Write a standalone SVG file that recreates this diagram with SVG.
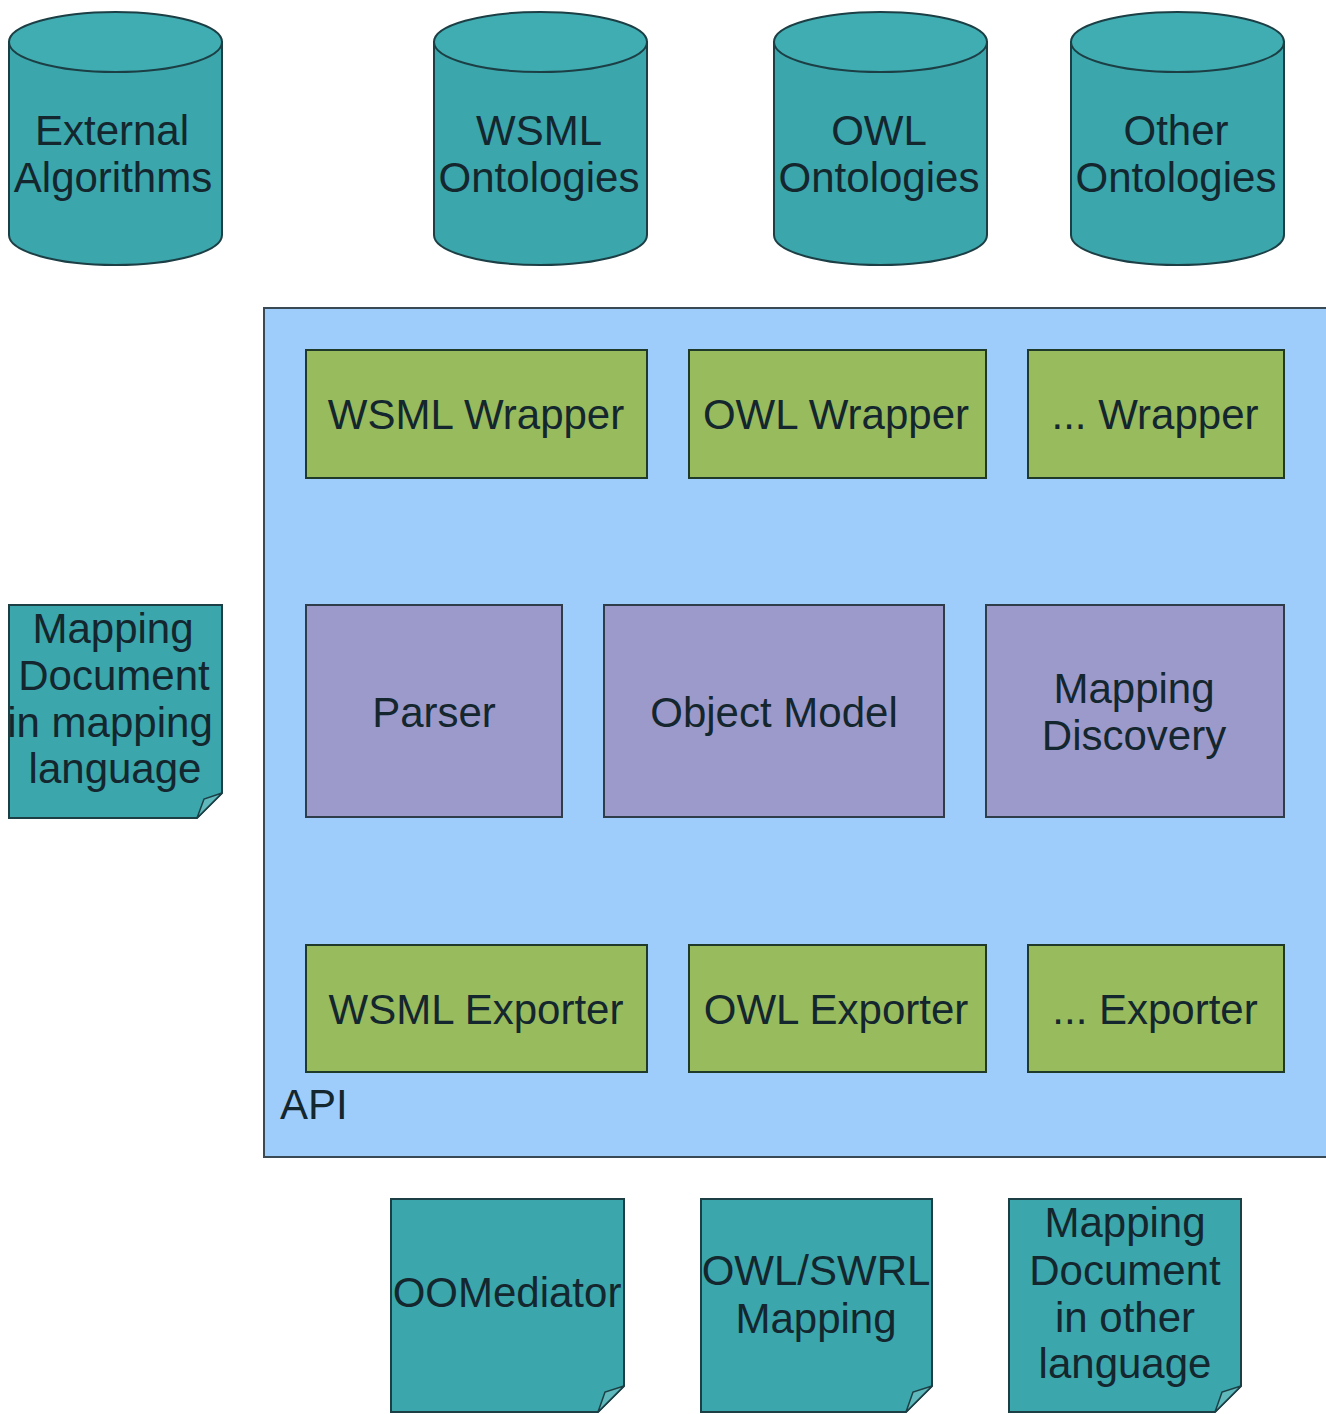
<svg xmlns="http://www.w3.org/2000/svg" width="1326" height="1414" viewBox="0 0 1326 1414">
  <defs>
    <style>
      .txt { font-family: "Liberation Sans", Arial, sans-serif; font-size: 42px; fill: #14262e; text-anchor: middle; }
      .teal { fill: #3ba6ab; stroke: #1c3f45; stroke-width: 2; }
      .top { fill: #40adb2; stroke: #1c3f45; stroke-width: 2; }
      .fold { fill: #5fb9bc; stroke: #1c3f45; stroke-width: 1.5; }
      .api { fill: #9fcdfb; stroke: #3a4a55; stroke-width: 2; }
      .green { fill: #98bb5d; stroke: #1f3a28; stroke-width: 2; }
      .purple { fill: #9c9acb; stroke: #2f3d4a; stroke-width: 2; }
    </style>
  </defs>
  <rect width="1326" height="1414" fill="#ffffff"/>

  <!-- data stores (cylinders) -->
  <g id="external-algorithms">
    <path class="teal" d="M9,42 L9,235 A106.5,30 0 0 0 222,235 L222,42 Z"/>
    <ellipse class="top" cx="115.5" cy="42" rx="106.5" ry="30"/>
    <text class="txt" x="112" y="145">External</text>
    <text class="txt" x="113" y="192">Algorithms</text>
  </g>
  <g id="wsml-ontologies">
    <path class="teal" d="M434,42 L434,235 A106.5,30 0 0 0 647,235 L647,42 Z"/>
    <ellipse class="top" cx="540.5" cy="42" rx="106.5" ry="30"/>
    <text class="txt" x="539" y="145">WSML</text>
    <text class="txt" x="539" y="192">Ontologies</text>
  </g>
  <g id="owl-ontologies">
    <path class="teal" d="M774,42 L774,235 A106.5,30 0 0 0 987,235 L987,42 Z"/>
    <ellipse class="top" cx="880.5" cy="42" rx="106.5" ry="30"/>
    <text class="txt" x="879" y="145">OWL</text>
    <text class="txt" x="879" y="192">Ontologies</text>
  </g>
  <g id="other-ontologies">
    <path class="teal" d="M1071,42 L1071,235 A106.5,30 0 0 0 1284,235 L1284,42 Z"/>
    <ellipse class="top" cx="1177.5" cy="42" rx="106.5" ry="30"/>
    <text class="txt" x="1176" y="145">Other</text>
    <text class="txt" x="1176" y="192">Ontologies</text>
  </g>

  <!-- API container -->
  <g id="api">
    <rect class="api" x="264" y="308" width="1064" height="849"/>
    <text class="txt" x="280" y="1119" style="text-anchor:start">API</text>
  </g>

  <!-- wrappers -->
  <g id="wsml-wrapper">
    <rect class="green" x="306" y="350" width="341" height="128"/>
    <text class="txt" x="476" y="429">WSML Wrapper</text>
  </g>
  <g id="owl-wrapper">
    <rect class="green" x="689" y="350" width="297" height="128"/>
    <text class="txt" x="836" y="429">OWL Wrapper</text>
  </g>
  <g id="other-wrapper">
    <rect class="green" x="1028" y="350" width="256" height="128"/>
    <text class="txt" x="1155" y="429">... Wrapper</text>
  </g>

  <!-- core -->
  <g id="parser">
    <rect class="purple" x="306" y="605" width="256" height="212"/>
    <text class="txt" x="434" y="727">Parser</text>
  </g>
  <g id="object-model">
    <rect class="purple" x="604" y="605" width="340" height="212"/>
    <text class="txt" x="774" y="727">Object Model</text>
  </g>
  <g id="mapping-discovery">
    <rect class="purple" x="986" y="605" width="298" height="212"/>
    <text class="txt" x="1134" y="703">Mapping</text>
    <text class="txt" x="1134" y="750">Discovery</text>
  </g>

  <!-- exporters -->
  <g id="wsml-exporter">
    <rect class="green" x="306" y="945" width="341" height="127"/>
    <text class="txt" x="476" y="1024">WSML Exporter</text>
  </g>
  <g id="owl-exporter">
    <rect class="green" x="689" y="945" width="297" height="127"/>
    <text class="txt" x="836" y="1024">OWL Exporter</text>
  </g>
  <g id="other-exporter">
    <rect class="green" x="1028" y="945" width="256" height="127"/>
    <text class="txt" x="1155" y="1024">... Exporter</text>
  </g>

  <!-- documents with folded corner -->
  <g id="mapping-document">
    <path class="teal" d="M9,605 L222,605 L222,793 L197,818 L9,818 Z"/>
    <path class="fold" d="M197,818 L222,793 L204,799 Z"/>
    <text class="txt" x="113" y="643">Mapping</text>
    <text class="txt" x="114" y="690">Document</text>
    <text class="txt" x="110" y="737">in mapping</text>
    <text class="txt" x="115" y="783">language</text>
  </g>
  <g id="oomediator">
    <path class="teal" d="M391,1199 L624,1199 L624,1386 L598,1412 L391,1412 Z"/>
    <path class="fold" d="M598,1412 L624,1386 L605,1392 Z"/>
    <text class="txt" x="507" y="1307">OOMediator</text>
  </g>
  <g id="owl-swrl-mapping">
    <path class="teal" d="M701,1199 L932,1199 L932,1386 L906,1412 L701,1412 Z"/>
    <path class="fold" d="M906,1412 L932,1386 L913,1392 Z"/>
    <text class="txt" x="816" y="1285">OWL/SWRL</text>
    <text class="txt" x="816" y="1333">Mapping</text>
  </g>
  <g id="mapping-document-other">
    <path class="teal" d="M1009,1199 L1241,1199 L1241,1386 L1215,1412 L1009,1412 Z"/>
    <path class="fold" d="M1215,1412 L1241,1386 L1222,1392 Z"/>
    <text class="txt" x="1125" y="1237">Mapping</text>
    <text class="txt" x="1125" y="1285">Document</text>
    <text class="txt" x="1125" y="1332">in other</text>
    <text class="txt" x="1125" y="1378">language</text>
  </g>

  <!-- no connectors are drawn between the components -->
  <g id="connectors"/>
</svg>
